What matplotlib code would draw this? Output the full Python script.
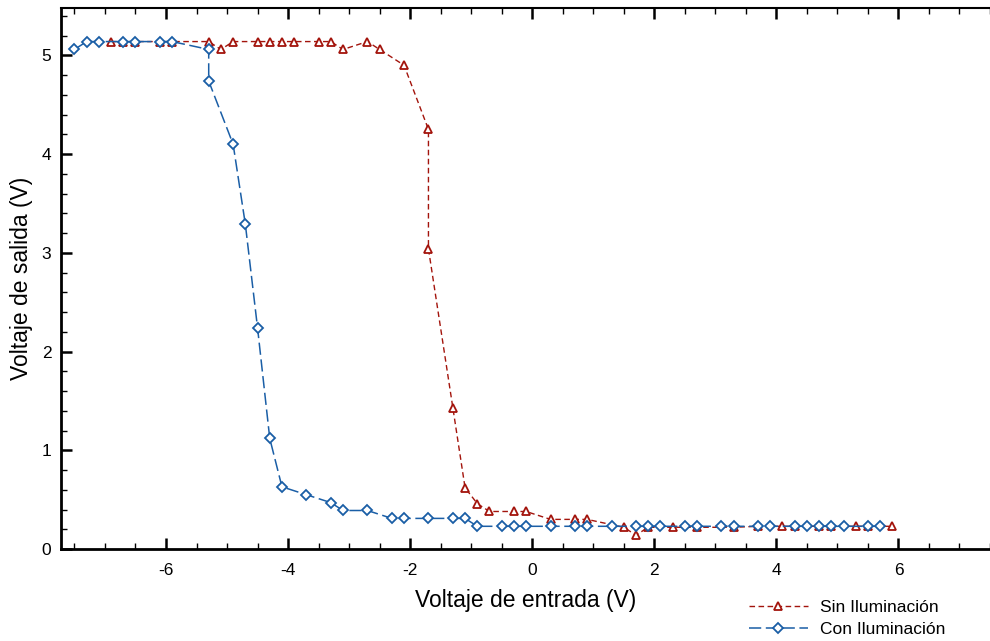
import matplotlib
matplotlib.use("Agg")
import matplotlib.pyplot as plt
from matplotlib.ticker import MultipleLocator

plt.rcParams['font.family'] = ['Liberation Sans', 'DejaVu Sans']
plt.rcParams['axes.unicode_minus'] = False

# Transfer curve without illumination
vin_dark = [-6.9, -6.7, -6.5, -6.1, -5.9, -5.3, -5.1, -4.9, -4.5, -4.3, -4.1, -3.9,
            -3.5, -3.3, -3.1, -2.7, -2.5, -2.1, -1.7, -1.7, -1.3, -1.1, -0.9, -0.7,
            -0.3, -0.1, 0.3, 0.7, 0.9, 1.5, 1.7, 1.9, 2.3, 2.7, 3.3, 3.7, 4.1, 4.3,
            4.7, 4.9, 5.3, 5.5, 5.9]
vout_dark = [5.14, 5.14, 5.14, 5.14, 5.14, 5.14, 5.06, 5.14, 5.14, 5.14, 5.14, 5.14,
             5.14, 5.14, 5.06, 5.14, 5.06, 4.90, 4.25, 3.04, 1.43, 0.62, 0.46, 0.38,
             0.38, 0.38, 0.30, 0.30, 0.30, 0.22, 0.14, 0.22, 0.22, 0.22, 0.22, 0.23, 0.23, 0.23,
             0.23, 0.23, 0.23, 0.23, 0.23]

# Transfer curve with illumination
vin_light = [-7.5, -7.3, -7.1, -6.7, -6.5, -6.1, -5.9, -5.3, -5.3, -4.9, -4.7, -4.5,
             -4.3, -4.1, -3.7, -3.3, -3.1, -2.7, -2.3, -2.1, -1.7, -1.3, -1.1, -0.9,
             -0.5, -0.3, -0.1, 0.3, 0.7, 0.9, 1.3, 1.7, 1.9, 2.1, 2.5, 2.7, 3.1, 3.3,
             3.7, 3.9, 4.3, 4.5, 4.7, 4.9, 5.1, 5.5, 5.7]
vout_light = [5.06, 5.14, 5.14, 5.14, 5.14, 5.14, 5.14, 5.06, 4.74, 4.10, 3.29, 2.24,
              1.12, 0.63, 0.55, 0.47, 0.39, 0.39, 0.31, 0.31, 0.31, 0.31, 0.31, 0.23,
              0.23, 0.23, 0.23, 0.23, 0.23, 0.23, 0.23, 0.23, 0.23, 0.23, 0.23, 0.23, 0.23, 0.23,
              0.23, 0.23, 0.23, 0.23, 0.23, 0.23, 0.23, 0.23, 0.23]

labels = ["Sin Iluminación", "Con Iluminación"]
red = "#a3140c"
blue = "#1a5ea6"

fig = plt.figure(figsize=(9.90, 6.41), dpi=100)
ax = fig.add_axes([61 / 990, 1 - 549 / 641, 1 - 61 / 990, (549 - 8) / 641])

ax.plot(vin_dark, vout_dark, color=red, lw=1.0, dashes=(4, 2.5),
        marker='^', ms=6.0, mfc='white', mec=red, mew=1.3, label=labels[0])
ax.plot(vin_light, vout_light, color=blue, lw=1.1, dashes=(8, 3),
        marker='D', ms=4.8, mfc='white', mec=blue, mew=1.3, label=labels[1])

ax.set_xlim(-7.72, 7.5)
ax.set_ylim(0, 5.48)
ax.xaxis.set_major_locator(MultipleLocator(2))
ax.xaxis.set_minor_locator(MultipleLocator(0.5))
ax.yaxis.set_major_locator(MultipleLocator(1))
ax.yaxis.set_minor_locator(MultipleLocator(0.2))

ax.tick_params(which='both', direction='in', top=True, right=False,
               labelsize=12.5, color='black')
ax.tick_params(which='major', length=8, width=1.8)
ax.tick_params(axis='x', which='major', pad=10)
ax.tick_params(axis='y', which='major', pad=7)
ax.tick_params(which='minor', length=4, width=1.0)

for side in ['left', 'bottom']:
    ax.spines[side].set_linewidth(2.0)
ax.spines['top'].set_linewidth(1.5)
ax.spines['right'].set_visible(False)

ax.set_xlabel("Voltaje de entrada (V)", fontsize=16.5, labelpad=8)
ax.set_ylabel("Voltaje de salida (V)", fontsize=16.5, labelpad=6)

fig.legend(loc='upper left', bbox_to_anchor=(742 / 990, 1 - 593 / 641),
           frameon=False, fontsize=12.5, handlelength=3.4, handletextpad=0.7,
           labelspacing=0.4, borderaxespad=0)

fig.savefig("out.png", dpi=100)
